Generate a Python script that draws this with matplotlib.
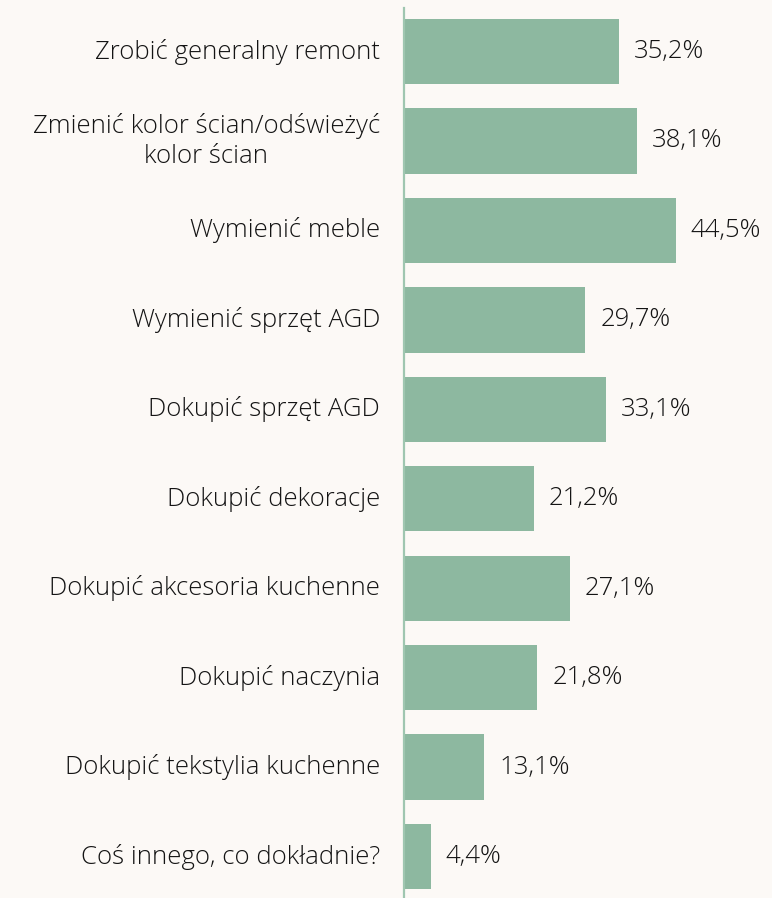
import matplotlib
matplotlib.use('Agg')
import matplotlib.pyplot as plt
from matplotlib.transforms import offset_copy

categories = [
    "Zrobić generalny remont",
    "Zmienić kolor ścian/odświeżyć\nkolor ścian",
    "Wymienić meble",
    "Wymienić sprzęt AGD",
    "Dokupić sprzęt AGD",
    "Dokupić dekoracje",
    "Dokupić akcesoria kuchenne",
    "Dokupić naczynia",
    "Dokupić tekstylia kuchenne",
    "Coś innego, co dokładnie?",
]
values = [35.2, 38.1, 44.5, 29.7, 33.1, 21.2, 27.1, 21.8, 13.1, 4.4]

bg = '#fcf9f6'
bar_color = '#8db8a0'
line_color = '#9fc6b0'

plt.rcParams['font.family'] = ['Open Sans', 'DejaVu Sans']

fig = plt.figure(figsize=(7.72, 8.98), dpi=100, facecolor=bg)
ax = fig.add_axes([404 / 772, 0, 1 - 404 / 772, 1 - 8 / 898])
ax.set_facecolor(bg)

ypos = list(range(len(categories)))
ax.barh(ypos, values, height=0.73, color=bar_color, zorder=2)
ax.set_xlim(0, 368 / 6.11)
ax.set_ylim(9.464, -0.487)

for s in ['top', 'right', 'bottom']:
    ax.spines[s].set_visible(False)
ax.spines['left'].set_color(line_color)
ax.spines['left'].set_linewidth(1.6)
ax.set_xticks([])
ax.set_yticks([])

# category labels on the left, value labels after each bar
lab_tr = offset_copy(ax.transData, fig=fig, x=-24, y=0, units='dots')
val_tr = offset_copy(ax.transData, fig=fig, x=15, y=0, units='dots')
for y, (cat, v) in enumerate(zip(categories, values)):
    ax.text(0, y, cat, transform=lab_tr, ha='right', va='center',
            multialignment='center', fontsize=18.5, color='#141414',
            fontweight='light', linespacing=1.3)
    ax.text(v, y, f"{v:.1f}%".replace('.', ','), transform=val_tr,
            ha='left', va='center', fontsize=18.5, color='#141414',
            fontweight='light')

fig.savefig('out.png', dpi=100, facecolor=bg)
